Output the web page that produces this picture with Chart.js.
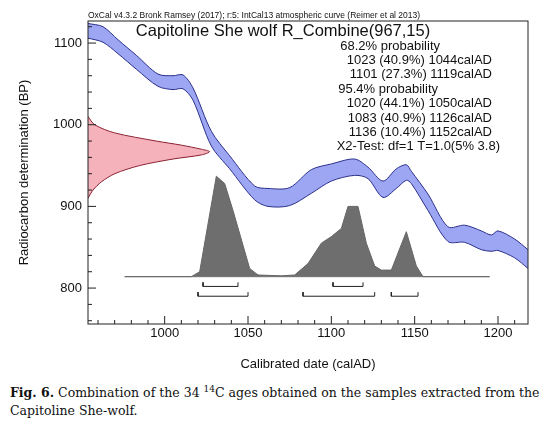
<!DOCTYPE html>
<html><head><meta charset="utf-8">
<script src="https://cdn.jsdelivr.net/npm/chart.js@4.4.0/dist/chart.umd.min.js"></script>
<style>body{margin:0;background:#fff;width:558px;height:441px;overflow:hidden}
#cap{font-family:"DejaVu Serif","Liberation Serif",serif;font-size:12.5px;line-height:18px;padding:0 0 0 10px;margin-top:0px;color:#111}</style>
</head><body>
<div style="position:relative;width:558px;height:380px"><canvas id="c"></canvas></div>
<div id="cap"><b>Fig. 6.</b> Combination of the 34 <sup style="font-size:9px">14</sup>C ages obtained on the samples extracted from the Capitoline She-wolf.</div>
<script>
const curveYears=[954,963,972,983,996,1005,1011,1017,1028,1039,1054,1062,1075,1088,1100,1114,1122,1131,1139,1145,1148,1158,1170,1180,1190,1196,1200,1210,1218];
const curveUpper=[1124,1120,1104,1085,1062,1060,1061,1045,992,962,925,922,923,945,952,958,948,931,946,951,943,915,875,877,870,865,870,860,847];
const curveLower=[1106,1101,1087,1068,1047,1043,1044,1030,974,946,908,900,901,916,931,938,934,911,922,932,928,895,857,856,847,845,846,837,824];
const probBP=[1010,1000,990,980,975,970,967,963,958,950,940,930,920,910];
const probYear=[954,958,970,995,1010,1022,1027,1022,1005,985,970,962,957,954];
const postYears=[976,1016,1021,1031,1036,1041,1051,1056,1070,1078,1086,1094,1100,1106,1110,1116,1121,1126,1130,1136,1145,1151,1155,1195];
const postVals=[814,814,820,937,928,895,824,816,815,816,830,855,863,873,900,900,855,827,822,822,869,827,814,814];
const baseBP=814;
const ranges68=[[1023,1044],[1101,1119]];
const ranges95=[[1020,1050],[1083,1126],[1136,1152]];
const statLines=["68.2% probability","1023 (40.9%) 1044calAD","1101 (27.3%) 1119calAD","95.4% probability","1020 (44.1%) 1050calAD","1083 (40.9%) 1126calAD","1136 (10.4%) 1152calAD","X2-Test: df=1 T=1.0(5% 3.8)"];
const xTicks=[1000,1050,1100,1150,1200];
const yTicks=[800,900,1000,1100];

const pts=(xs,ys)=>xs.map((x,i)=>({x,y:ys[i]}));
function bracket(r,y){return [{x:r[0],y:y+5},{x:r[0],y:y},{x:r[1],y:y},{x:r[1],y:y+5}];}
const ds=[
 {data:pts(curveYears,curveUpper),borderColor:'#2a2f8a',borderWidth:1,pointRadius:0,fill:false,tension:0.3},
 {data:pts(curveYears,curveLower),borderColor:'#2a2f8a',borderWidth:1,pointRadius:0,fill:'-1',backgroundColor:'rgba(140,150,240,0.85)',tension:0.3},
 {data:pts(probYear,probBP),borderColor:'#8a2030',borderWidth:1,pointRadius:0,fill:{value:954},backgroundColor:'rgba(245,170,180,0.9)',tension:0.3,indexAxis:'y'},
 {data:pts(postYears,postVals),borderColor:'#666',borderWidth:1,pointRadius:0,fill:{value:baseBP},backgroundColor:'#6e6e6e',tension:0},
 {data:[{x:976,y:baseBP},{x:1195,y:baseBP}],borderColor:'#999',borderWidth:1.2,pointRadius:0}
];
ranges68.forEach(r=>ds.push({data:bracket(r,802),borderColor:'#222',borderWidth:1,pointRadius:0}));
ranges95.forEach(r=>ds.push({data:bracket(r,790),borderColor:'#222',borderWidth:1,pointRadius:0}));

const deco={id:'deco',afterDraw(ch){
 const c=ch.ctx,a=ch.chartArea,xs=ch.scales.x,ys=ch.scales.y;
 c.save();c.strokeStyle='#222';c.lineWidth=1;c.strokeRect(a.left,a.top,a.right-a.left,a.bottom-a.top);
 c.beginPath();
 for(let v=960;v<=1210;v+=10){const p=xs.getPixelForValue(v);const L=v%50==0?8:4;c.moveTo(p,a.bottom);c.lineTo(p,a.bottom-L);}
 for(let v=760;v<=1120;v+=20){const p=ys.getPixelForValue(v);const L=v%100==0?8:4;c.moveTo(a.left,p);c.lineTo(a.left+L,p);}
 c.stroke();
 c.fillStyle='#111';c.font='13px "Liberation Sans",Arial';c.textAlign='center';c.textBaseline='top';
 xTicks.forEach(v=>c.fillText(v,xs.getPixelForValue(v),a.bottom+3));
 c.textAlign='right';c.textBaseline='middle';
 yTicks.forEach(v=>c.fillText(v,a.left-6,ys.getPixelForValue(v)));
 c.textAlign='center';c.font='13px "Liberation Sans",Arial';c.fillText('Calibrated date (calAD)',(a.left+a.right)/2,364);
 c.save();c.translate(24,(a.top+a.bottom)/2);c.rotate(-Math.PI/2);c.fillText('Radiocarbon determination (BP)',0,0);c.restore();
 c.textAlign='left';c.font='8.5px "Liberation Sans",Arial';c.fillText('OxCal v4.3.2 Bronk Ramsey (2017); r:5: IntCal13 atmospheric curve (Reimer et al 2013)',a.left,16);
 c.textAlign='center';c.font='16.5px "Liberation Sans",Arial';c.fillText('Capitoline She wolf R_Combine(967,15)',283,31);
 c.textAlign='right';c.font='13px "Liberation Sans",Arial';
 statLines.forEach((t,i)=>c.fillText(t,i==0||i==3?(i==0?440:438):(i==7?500:492),46+i*14.4));
 c.restore();}};

new Chart(document.getElementById('c'),{type:'line',data:{datasets:ds},plugins:[deco],
 options:{responsive:true,maintainAspectRatio:false,animation:false,
  layout:{padding:{left:0,right:30,top:21,bottom:0}},
  plugins:{legend:{display:false},tooltip:{enabled:false}},
  scales:{
   x:{type:'linear',min:954,max:1218,grid:{display:false},border:{display:false},ticks:{display:false},afterFit(s){s.height=56;}},
   y:{type:'linear',min:756,max:1127,grid:{display:false},border:{display:false},ticks:{display:false},afterFit(s){s.width=88;}}
  }}});
</script></body></html>
